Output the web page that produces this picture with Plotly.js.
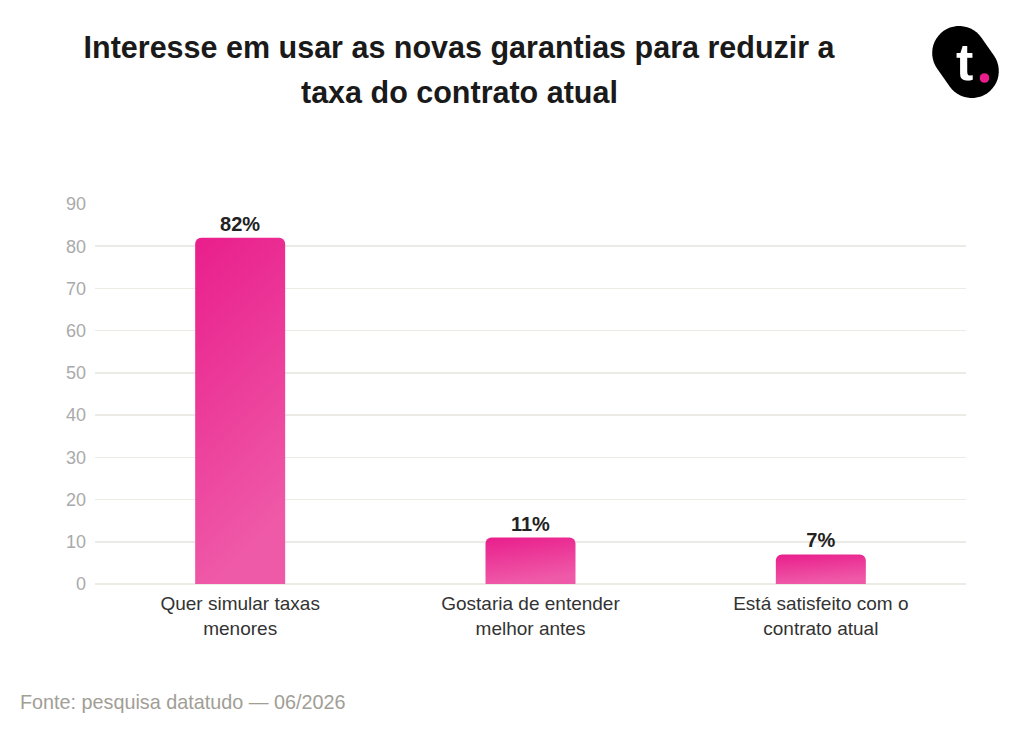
<!DOCTYPE html>
<html>
<head>
<meta charset="utf-8">
<script src="https://cdn.plot.ly/plotly-3.0.1.min.js"></script>
<style>
  html, body { margin: 0; padding: 0; background: #ffffff; }
  #chart { width: 1024px; height: 739px; }
</style>
</head>
<body>
<div id="chart"></div>
<script>
// ---- data ----
const categories = [
  "Quer simular taxas<br>menores",
  "Gostaria de entender<br>melhor antes",
  "Está satisfeito com o<br>contrato atual"
];
const values = [82, 11, 7];
const valueLabels = ["82%", "11%", "7%"];
const yTicks = [0, 10, 20, 30, 40, 50, 60, 70, 80, 90];
const titleLine1 = "Interesse em usar as novas garantias para reduzir a";
const titleLine2 = "taxa do contrato atual";
const sourceText = "Fonte: pesquisa datatudo — 06/2026";

// ---- logo geometry (capsule) ----
function capsulePath(halfLen, r, dx, dy) {
  const n = Math.hypot(dx, dy);
  const ux = dx / n, uy = dy / n;
  const base = Math.atan2(uy, ux);
  const pts = [];
  const steps = 24;
  for (let i = 0; i <= steps; i++) {
    const a = base - Math.PI / 2 + Math.PI * i / steps;
    pts.push([halfLen * ux + r * Math.cos(a), halfLen * uy + r * Math.sin(a)]);
  }
  for (let i = 0; i <= steps; i++) {
    const a = base + Math.PI / 2 + Math.PI * i / steps;
    pts.push([-halfLen * ux + r * Math.cos(a), -halfLen * uy + r * Math.sin(a)]);
  }
  return "M" + pts.map(p => p[0].toFixed(2) + "," + p[1].toFixed(2)).join("L") + "Z";
}

const ml = 94.5, mr = 57.5, mt = 204, mb = 155;
const W = 1024, H = 739;
const pw = W - ml - mr, ph = H - mt - mb;
const px = x => (x - ml) / pw;
const py = y => (H - mb - y) / ph;
const FONT = "Liberation Sans, Arial, sans-serif";

const trace = {
  type: "bar",
  x: categories,
  y: values,
  text: valueLabels,
  textposition: "outside",
  cliponaxis: false,
  textfont: { family: FONT, size: 20, color: "#222222", weight: "bold" },
  marker: { color: "#ea2a92", line: { width: 0 } },
  hoverinfo: "skip"
};

const layout = {
  width: W,
  height: H,
  margin: { l: ml, r: mr, t: mt, b: mb, pad: 0 },
  paper_bgcolor: "#ffffff",
  plot_bgcolor: "#ffffff",
  bargap: 0.69,
  barcornerradius: 6,
  showlegend: false,
  font: { family: FONT },
  title: {
    text: "<b>" + titleLine1 + "</b>",
    font: { family: FONT, size: 30.5, color: "#1a1a1a" },
    xref: "paper", x: px(459), xanchor: "center",
    yref: "container", y: 1 - 47 / H, yanchor: "middle"
  },
  xaxis: {
    type: "category",
    showgrid: false,
    showline: false,
    zeroline: false,
    ticks: "",
    ticklabelstandoff: 6,
    tickfont: { family: FONT, size: 19, color: "#333333" },
    automargin: false
  },
  yaxis: {
    range: [0, 90],
    tickvals: yTicks,
    ticktext: yTicks.map(String),
    showgrid: true,
    gridcolor: "#ebeae5",
    gridwidth: 1.5,
    zeroline: true,
    zerolinecolor: "#ebeae5",
    zerolinewidth: 1.5,
    showline: false,
    ticks: "",
    ticklabelstandoff: 8,
    tickfont: { family: FONT, size: 18, color: "#aaaaaa" },
    automargin: false
  },
  annotations: [
    {
      text: "<b>" + titleLine2 + "</b>",
      xref: "paper", yref: "paper", x: px(459), y: py(92),
      xanchor: "center", yanchor: "middle", showarrow: false,
      font: { family: FONT, size: 30.5, color: "#1a1a1a" }
    },
    {
      text: sourceText,
      xref: "paper", yref: "paper", x: px(17), y: py(702),
      xanchor: "left", yanchor: "middle", showarrow: false,
      font: { family: FONT, size: 19.8, color: "#a19e96" }
    },
    {
      text: "<b>t</b>",
      xref: "paper", yref: "paper", x: px(965), y: py(62),
      xanchor: "center", yanchor: "middle", showarrow: false,
      font: { family: FONT, size: 52, color: "#ffffff" }
    }
  ],
  shapes: [
    {
      type: "path",
      xref: "paper", yref: "paper",
      xsizemode: "pixel", ysizemode: "pixel",
      xanchor: px(966), yanchor: py(62),
      path: capsulePath(11, 27, 14, -20),
      fillcolor: "#000000",
      line: { width: 0 },
      layer: "below"
    },
    {
      type: "circle",
      xref: "paper", yref: "paper",
      xsizemode: "pixel", ysizemode: "pixel",
      xanchor: px(985), yanchor: py(78),
      x0: -4.8, x1: 4.8, y0: -4.8, y1: 4.8,
      fillcolor: "#e91e8c",
      line: { width: 0 },
      layer: "above"
    }
  ]
};

Plotly.newPlot("chart", [trace], layout, { staticPlot: true, displayModeBar: false }).then(function (gd) {
  // vertical pink gradient on the bars
  const svg = gd.querySelector(".main-svg");
  const ns = "http://www.w3.org/2000/svg";
  let defs = svg.querySelector("defs");
  if (!defs) { defs = document.createElementNS(ns, "defs"); svg.insertBefore(defs, svg.firstChild); }
  const grad = document.createElementNS(ns, "linearGradient");
  grad.setAttribute("id", "barGrad");
  grad.setAttribute("x1", "0"); grad.setAttribute("y1", "0");
  grad.setAttribute("x2", "0.25"); grad.setAttribute("y2", "1");
  const s1 = document.createElementNS(ns, "stop");
  s1.setAttribute("offset", "0"); s1.setAttribute("stop-color", "#e91e8c");
  const s2 = document.createElementNS(ns, "stop");
  s2.setAttribute("offset", "1"); s2.setAttribute("stop-color", "#ef5aa8");
  grad.appendChild(s1); grad.appendChild(s2);
  defs.appendChild(grad);
  gd.querySelectorAll(".bars .point path").forEach(function (p) {
    p.style.fill = "url(#barGrad)";
  });
});
</script>
</body>
</html>
